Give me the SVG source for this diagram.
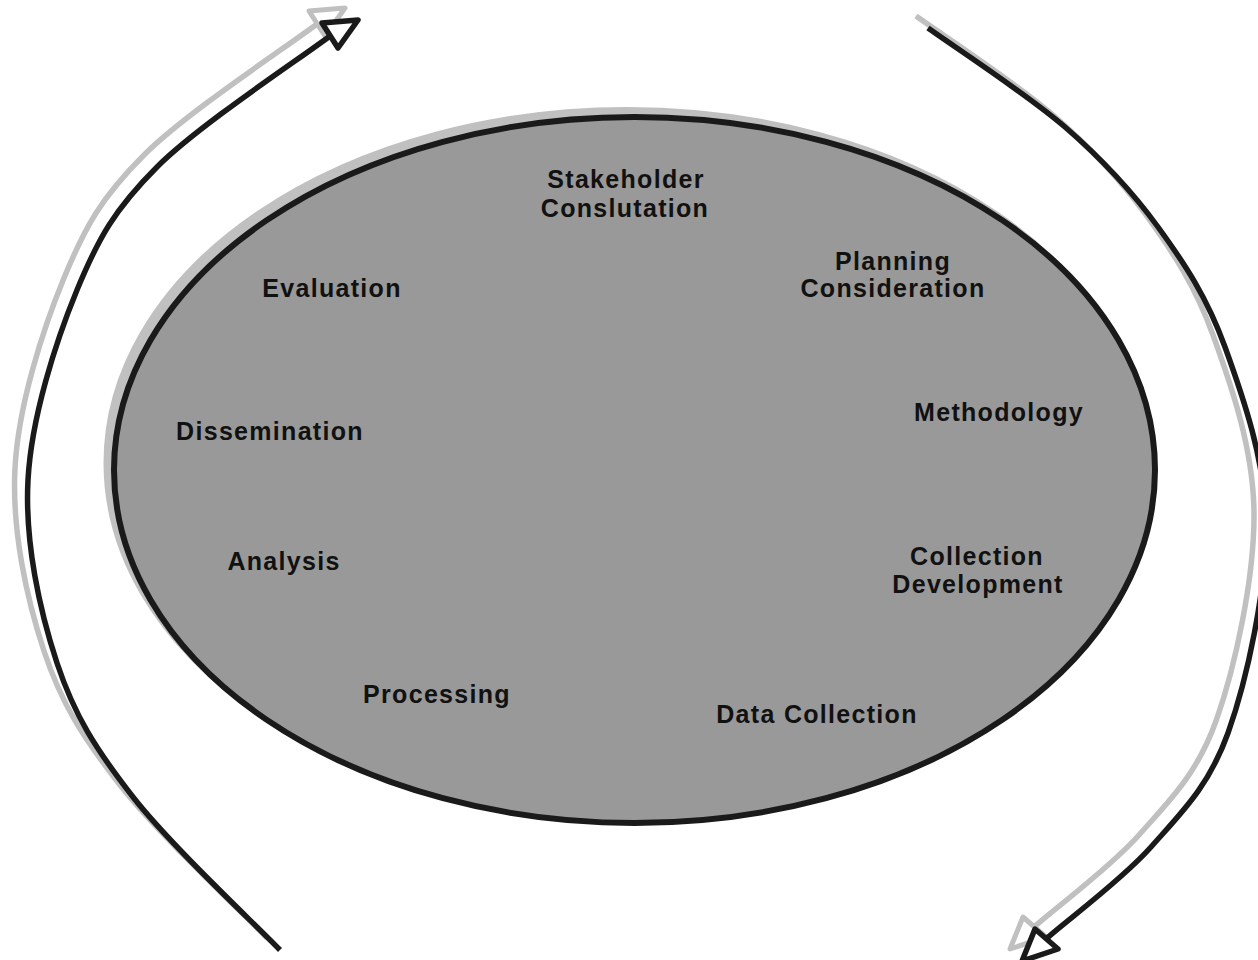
<svg xmlns="http://www.w3.org/2000/svg" width="1258" height="960" viewBox="0 0 1258 960">
  <style>
    .bg { fill: #ffffff; }
    .shadow { fill: none; stroke: #c0c0c0; stroke-width: 5.5; stroke-linejoin: round; }
    .line { fill: none; stroke: #1a1a1a; stroke-width: 5.5; stroke-linejoin: round; }
    .head { fill: #ffffff; stroke: #1a1a1a; stroke-width: 5.5; stroke-linejoin: round; }
    .headshadow { fill: #ffffff; stroke: #c0c0c0; stroke-width: 5; stroke-linejoin: round; }
    .ellshadow { fill: #c0c0c0; stroke: #c0c0c0; stroke-width: 6; }
    .ell { fill: #999999; stroke: #1a1a1a; stroke-width: 6; }
    .lbl { font-family: "Liberation Sans", Arial, sans-serif; font-weight: bold; font-size: 25px; letter-spacing: 1.3px; fill: #111111; text-anchor: middle; }
  </style>
  <defs>
    <path id="leftArc" d="M 280 950 C 255.5 924.5 170.2 844.8 133 797 C 95.8 749.2 74.5 715.8 57 663 C 39.5 610.2 24.7 542.2 28 480 C 31.3 417.8 55.5 342.2 77 290 C 98.5 237.8 114.8 209.2 157 167 C 199.2 124.8 301 58 330 36"/>
    <polygon id="leftHead" points="358,20 322,23 338,48"/>
    <path id="rightArc" d="M 928 28 C 950.8 44.5 1026.7 93.8 1065 127 C 1103.3 160.2 1131.3 190.3 1158 227 C 1184.7 263.7 1207 297.3 1225 347 C 1243 396.7 1265.5 460.7 1266 525 C 1266.5 589.3 1247.2 679.3 1228 733 C 1208.8 786.7 1181.3 812.8 1151 847 C 1120.7 881.2 1063.5 922.8 1046 939"/>
    <polygon id="rightHead" points="1022,961 1035,929 1058,949"/>
  </defs>
  <rect class="bg" x="0" y="0" width="1258" height="960"/>

  <g id="connectors">
    <g id="cycle-left">
      <use href="#leftArc" class="shadow" transform="translate(-13,-12)"/>
      <use href="#leftHead" class="headshadow" transform="translate(-13,-12)"/>
      <use href="#leftArc" class="line"/>
      <use href="#leftHead" class="head"/>
    </g>
    <g id="cycle-right">
      <use href="#rightArc" class="shadow" transform="translate(-12,-12)"/>
      <use href="#rightHead" class="headshadow" transform="translate(-12,-12)"/>
      <use href="#rightArc" class="line"/>
      <use href="#rightHead" class="head"/>
    </g>
  </g>

  <g id="cycle-ellipse">
    <ellipse class="ellshadow" cx="627" cy="463" rx="520.5" ry="353"/>
    <ellipse class="ell" cx="634.5" cy="470" rx="520.5" ry="353"/>
  </g>

  <g id="node-stakeholder">
    <text class="lbl" x="626" y="188">Stakeholder</text>
    <text class="lbl" x="625" y="217">Conslutation</text>
  </g>
  <g id="node-planning">
    <text class="lbl" x="893" y="270">Planning</text>
    <text class="lbl" x="893" y="297">Consideration</text>
  </g>
  <g id="node-methodology">
    <text class="lbl" x="999" y="421">Methodology</text>
  </g>
  <g id="node-collection-development">
    <text class="lbl" x="977" y="565">Collection</text>
    <text class="lbl" x="978" y="593">Development</text>
  </g>
  <g id="node-data-collection">
    <text class="lbl" x="817" y="723">Data Collection</text>
  </g>
  <g id="node-processing">
    <text class="lbl" x="437" y="703">Processing</text>
  </g>
  <g id="node-analysis">
    <text class="lbl" x="284" y="570">Analysis</text>
  </g>
  <g id="node-dissemination">
    <text class="lbl" x="270" y="440">Dissemination</text>
  </g>
  <g id="node-evaluation">
    <text class="lbl" x="332" y="297">Evaluation</text>
  </g>
</svg>
